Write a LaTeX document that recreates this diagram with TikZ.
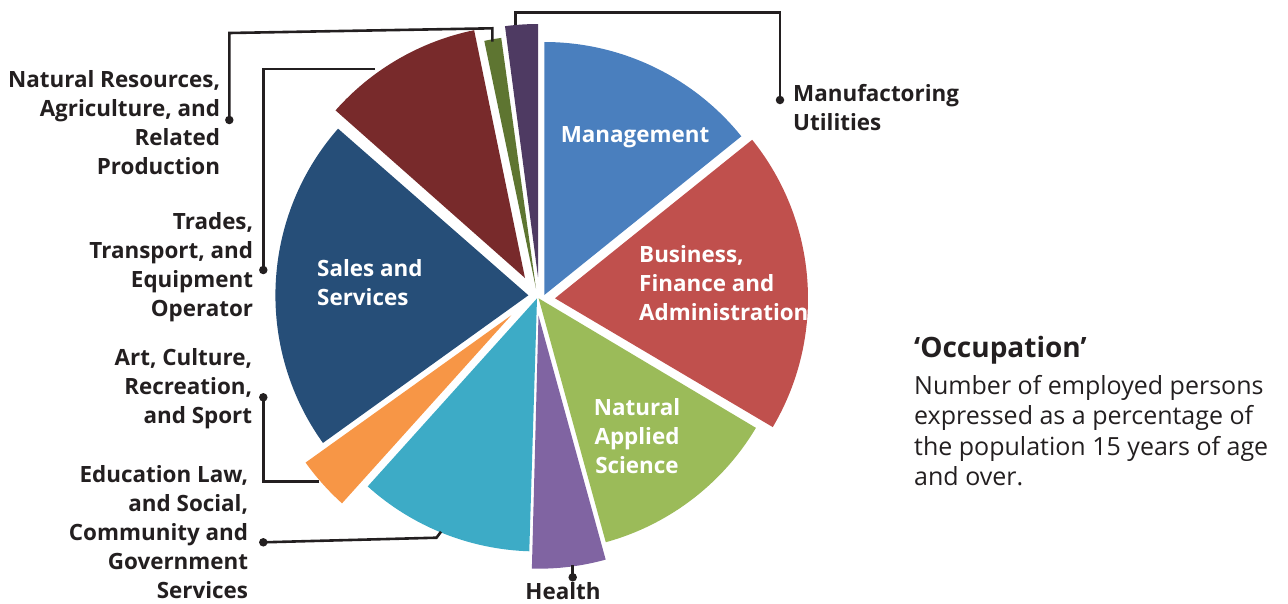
\documentclass[tikz,border=0pt]{standalone}
\usepackage{fontspec}
\setmainfont{Open Sans}
\usetikzlibrary{positioning,calc}
\definecolor{mgmtblue}{HTML}{4A7FBE}
\definecolor{busred}{HTML}{C0504D}
\definecolor{nasgreen}{HTML}{9BBB59}
\definecolor{hlthpurple}{HTML}{8064A2}
\definecolor{educyan}{HTML}{3DABC6}
\definecolor{artorange}{HTML}{F79646}
\definecolor{salesblue}{HTML}{264E78}
\definecolor{tradesred}{HTML}{782A2B}
\definecolor{natolive}{HTML}{5E7531}
\definecolor{manpurple}{HTML}{4E3A62}
\definecolor{inkgray}{HTML}{231F20}
\tikzset{
    leader/.style={draw=inkgray, line width=2.6pt},
    dotend/.style={circle, fill=inkgray, inner sep=0pt, minimum size=8.5pt},
    lbl/.style={font=\bfseries\fontsize{22.4}{29}\selectfont, text=inkgray, align=right, anchor=east, inner sep=0pt},
    inlbl/.style={font=\bfseries\fontsize{22.4}{29}\selectfont, text=white, inner sep=0pt}
}

\begin{document}
\begin{tikzpicture}[x=1pt, y=1pt]
    \useasboundingbox (0,0) rectangle (1288,-603);

    % exploded pie slices: apex x, apex y, start, end
    \foreach \col/\cx/\cy/\a/\b in {
        mgmtblue/544.3/-295/38.85/90,
        busred/555/-298.3/-30.6/38.8,
        nasgreen/538.6/-298.3/-74.6/-30.8,
        hlthpurple/538.5/-315.7/-91.5/-74.6,
        educyan/537/-298.4/-132/-91.75,
        artorange/511.3/-315.3/-144.4/-132,
        salesblue/528.4/-295.3/138.8/215.7,
        tradesred/525/-278/101.6/138.5,
        natolive/536/-288.5/97.9/101.8,
        manpurple/538/-277/90/97.5}
        \fill[\col] (\cx,\cy) -- ++(\a:253) arc[start angle=\a, end angle=\b, radius=253] -- cycle;

    % leader ends on the slices
    \coordinate (manufend) at (515.7,-25);
    \coordinate (natresend) at (492.3,-41.7);
    \coordinate (tradesend) at (375,-69);
    \coordinate (artend) at (319.3,-481.7);
    \coordinate (eduend) at (441,-531.7);
    \coordinate (hlthend) at (572.7,-565);

    \node[dotend] (manufdot) at (780,-100) {};
    \node[dotend] (natresdot) at (229.3,-120) {};
    \node[dotend] (tradesdot) at (263.3,-270) {};
    \node[dotend] (artdot) at (263.3,-397.3) {};
    \node[dotend] (edudot) at (263.3,-542.3) {};
    \node[dotend] (hlthdot) at (572.7,-577.3) {};

    \draw[leader] (manufend) -- ++(0,12.7) -| (manufdot.center);
    \draw[leader] (natresend) -- ++(0,13.4) -- ($(natresdot)+(0,87)$) -- (natresdot.center);
    \draw[leader] (tradesend) -| (tradesdot.center);
    \draw[leader] (artend) -| (artdot.center);
    \draw[leader] (eduend) -- ++(-4.5,-6) -- (edudot.center);
    \draw[leader] (hlthend) -- (hlthdot.center);

    % outside labels
    \node[lbl, anchor=west, align=left] (manuflbl) at ($(manufdot)+(13,-7.5)$) {Manufactoring\\Utilities};
    \node[lbl] (natreslbl) at ($(natresdot)+(-9,-2.5)$) {Natural Resources,\\Agriculture, and\\Related\\Production};
    \node[lbl] (tradeslbl) at ($(tradesdot)+(-10,3)$) {Trades,\\Transport, and\\Equipment\\Operator};
    \node[lbl] (artlbl) at ($(artdot)+(-11,8.3)$) {Art, Culture,\\Recreation,\\and Sport};
    \node[lbl] (edulbl) at ($(edudot)+(-15,10.3)$) {Education Law,\\and Social,\\Community and\\Government\\Services};
    \node[lbl, anchor=center] (hlthlbl) at ($(hlthdot)+(-9.7,-14)$) {Health};

    % labels inside the slices
    \node[inlbl] (mgmtlbl) at (635,-137.5) {Management};
    \node[inlbl, anchor=west, align=left] (buslbl) at (639,-283) {Business,\\Finance and\\Administration};
    \node[inlbl, align=center] (naslbl) at (637,-436) {Natural\\Applied\\Science};
    \node[inlbl, anchor=west, align=left] (saleslbl) at (317,-283) {Sales and\\Services};

    % caption
    \node[font=\bfseries\fontsize{28}{30}\selectfont, text=inkgray, anchor=west, inner sep=0pt] (occtitle) at (914,-350) {‘Occupation’};
    \node[font=\fontsize{25}{30.5}\selectfont, text=inkgray, anchor=west, align=left, inner sep=0pt] (occtext) at (914,-430.5) {Number of employed persons\\expressed as a percentage of\\the population 15 years of age\\and over.};
\end{tikzpicture}
\end{document}
